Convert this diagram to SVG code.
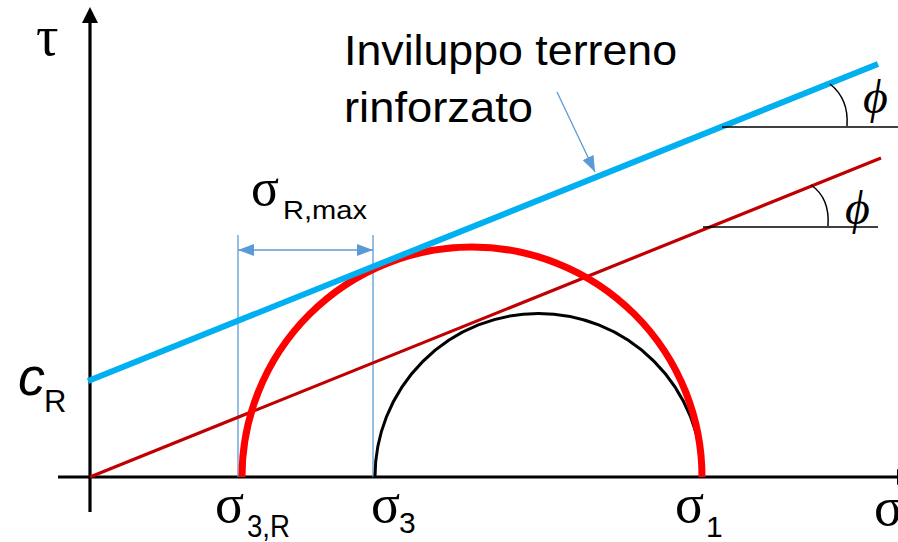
<svg xmlns="http://www.w3.org/2000/svg" width="898" height="542" viewBox="0 0 898 542">
<style>
.axis{stroke:#000;stroke-width:3.2;fill:none}
.thin{stroke:#000;stroke-width:1.5;fill:none}
.dim{stroke:#5B9BD5;stroke-width:1.3;fill:none}
.serif{font-family:"Liberation Serif","Times New Roman",serif;fill:#000}
.sans{font-family:"Liberation Sans",Arial,sans-serif;fill:#000}
</style>
<defs>
<marker id="arr" viewBox="0 0 16 12" refX="16" refY="6" markerWidth="16" markerHeight="12" markerUnits="userSpaceOnUse" orient="auto-start-reverse">
<path d="M0,0 L16,6 L0,12 z" fill="#5B9BD5"/>
</marker>
</defs>
<rect width="898" height="542" fill="#fff"/>
<g id="axes">
<line class="axis" x1="90" y1="22" x2="90" y2="512"/>
<polygon points="82,23 98,23 90,7" fill="#000"/>
<line class="axis" x1="58" y1="477" x2="898" y2="477"/>
<polygon points="897,469 897,485 912,477" fill="#000"/>
<text class="serif" x="36" y="55" font-size="56">τ</text>
<text class="serif" x="874" y="525" font-size="54">σ</text>
</g>
<g id="connectors">
<line class="dim" x1="238" y1="235" x2="238" y2="477"/>
<line class="dim" x1="373" y1="235" x2="373" y2="477"/>
<line class="dim" x1="238" y1="250" x2="373" y2="250" marker-start="url(#arr)" marker-end="url(#arr)"/>
<line class="dim" x1="557" y1="92" x2="595" y2="172" marker-end="url(#arr)"/>
</g>
<g id="circle-small">
<path d="M375,477 A163.5,163.5 0 0 1 702,477" fill="none" stroke="#000" stroke-width="3"/>
</g>
<g id="envelope-soil">
<line x1="90" y1="477" x2="881" y2="158" stroke="#C00000" stroke-width="3.2"/>
<line class="thin" x1="703" y1="227" x2="878" y2="227"/>
<path class="thin" d="M811,185 Q830,198 828,226"/>
<text class="serif" x="845" y="224" font-size="48" font-style="italic">ϕ</text>
</g>
<g id="circle-reinforced">
<path d="M242,477 A230,230 0 0 1 702,477" fill="none" stroke="#FF0000" stroke-width="7"/>
</g>
<g id="envelope-reinforced">
<line x1="88" y1="381" x2="878" y2="64" stroke="#00B0F0" stroke-width="6"/>
<line class="thin" x1="722" y1="127" x2="898" y2="127"/>
<path class="thin" d="M830,84 Q849,99 847,126"/>
<text class="serif" x="863" y="113" font-size="48" font-style="italic">ϕ</text>
</g>
<g id="label-envelope">
<text class="sans" x="344" y="65" font-size="42" textLength="333" lengthAdjust="spacingAndGlyphs">Inviluppo terreno</text>
<text class="sans" x="344" y="122" font-size="42" textLength="189" lengthAdjust="spacingAndGlyphs">rinforzato</text>
</g>
<g id="label-sigmaRmax">
<text class="serif" x="251" y="205" font-size="52">σ</text>
<text class="sans" x="283" y="219" font-size="25" textLength="84" lengthAdjust="spacingAndGlyphs">R,max</text>
</g>
<g id="label-cR">
<text class="sans" x="18" y="395" font-size="54" font-style="italic">c</text>
<text class="sans" x="44" y="412" font-size="31">R</text>
</g>
<g id="label-sigma3R">
<text class="serif" x="215" y="522" font-size="54">σ</text>
<text class="sans" x="247" y="537" font-size="31" textLength="43" lengthAdjust="spacingAndGlyphs">3,R</text>
</g>
<g id="label-sigma3">
<text class="serif" x="371" y="522" font-size="54">σ</text>
<text class="sans" x="399" y="533" font-size="30">3</text>
</g>
<g id="label-sigma1">
<text class="serif" x="675" y="522" font-size="54">σ</text>
<text class="sans" x="706" y="537" font-size="30">1</text>
</g>
</svg>
